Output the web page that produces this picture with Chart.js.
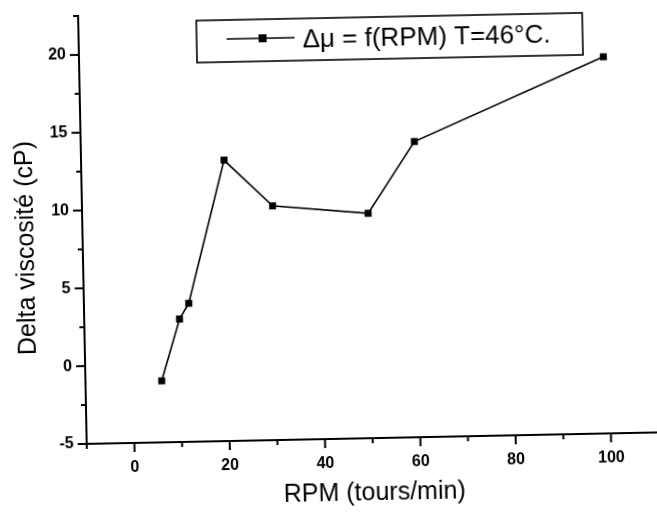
<!DOCTYPE html>
<html>
<head>
<meta charset="utf-8">
<script src="https://cdn.jsdelivr.net/npm/chart.js@4/dist/chart.umd.min.js"></script>
<style>
  html, body { margin: 0; padding: 0; background: #fff; overflow: hidden; }
  #wrap { width: 657px; height: 514px; }
  /* la figure scannee est legerement inclinee */
  #chart { transform: rotate(-1.15deg); transform-origin: 50% 50%; }
</style>
</head>
<body>
<div id="wrap"><canvas id="chart" width="657" height="514"></canvas></div>
<script>
// donnees
const rpm = [6, 10, 12, 20, 30, 50, 60, 100]
const deltaVisc = [-1.05, 2.9, 3.9, 13.05, 10.05, 9.45, 14, 19.2]
const xLabels = [0, 20, 40, 60, 80, 100]
const yLabels = [-5, 0, 5, 10, 15, 20]
const serieLabel = 'Δμ = f(RPM) T=46°C.'

const points = rpm.map((x, i) => ({ x: x, y: deltaVisc[i] }))
const fontFamily = '"Liberation Sans", Arial, sans-serif'

// traits des graduations (majeures + mineures), titres et legende
const decorPlugin = {
    id: 'originDecor',
    afterDraw(chart) {
        const ctx = chart.ctx
        const xs = chart.scales.x
        const ys = chart.scales.y
        ctx.save()
        ctx.strokeStyle = '#000'
        ctx.lineWidth = 2
        xs.ticks.forEach(t => {
            const px = xs.getPixelForValue(t.value)
            const len = xLabels.includes(t.value) ? 9 : 5
            ctx.beginPath()
            ctx.moveTo(px, xs.top)
            ctx.lineTo(px, xs.top + len)
            ctx.stroke()
        })
        ys.ticks.forEach(t => {
            const py = ys.getPixelForValue(t.value)
            const len = yLabels.includes(t.value) ? 9 : 5
            ctx.beginPath()
            ctx.moveTo(ys.right, py)
            ctx.lineTo(ys.right - len, py)
            ctx.stroke()
        })

        // titres des axes
        ctx.fillStyle = '#000'
        ctx.textAlign = 'center'
        ctx.textBaseline = 'middle'
        ctx.font = '25px ' + fontFamily
        ctx.fillText('RPM (tours/min)', 370, 494)
        ctx.save()
        ctx.translate(27, 242)
        ctx.rotate(-Math.PI / 2)
        ctx.fillText('Delta viscosité (cP)', 0, 0)
        ctx.restore()

        // legende encadree
        ctx.lineWidth = 1.6
        ctx.strokeRect(201, 18, 386, 42)
        ctx.beginPath()
        ctx.moveTo(231, 37)
        ctx.lineTo(299, 37)
        ctx.lineWidth = 1.5
        ctx.stroke()
        ctx.fillRect(263, 33, 8, 8)
        ctx.textAlign = 'left'
        ctx.font = '26px ' + fontFamily
        ctx.fillText(chart.data.datasets[0].label, 307, 40)
        ctx.restore()
    }
}

new Chart(document.getElementById('chart'), {
    type: 'scatter',
    data: {
        datasets: [{
            label: serieLabel,
            data: points,
            showLine: true,
            borderColor: '#000',
            borderWidth: 1.6,
            backgroundColor: '#000',
            pointStyle: 'rect',
            pointRadius: 4.6,
            pointBorderWidth: 0.5,
            pointBorderColor: '#000',
            pointBackgroundColor: '#000'
        }]
    },
    options: {
        responsive: false,
        animation: false,
        layout: { autoPadding: false, padding: { top: 11, right: 2, left: 0, bottom: 0 } },
        plugins: {
            legend: { display: false },
            tooltip: { enabled: false }
        },
        scales: {
            x: {
                type: 'linear',
                min: -10,
                max: 110,
                // zone de trace fixe, sans marge ajoutee pour les etiquettes
                afterFit(scale) { scale.height = 75; scale.paddingLeft = 0; scale.paddingRight = 0 },
                grid: { display: false, drawTicks: false },
                border: { display: true, color: '#000', width: 2 },
                ticks: {
                    stepSize: 10,
                    autoSkip: false,
                    maxRotation: 0,
                    padding: 15,
                    color: '#000',
                    font: { family: fontFamily, size: 16, weight: 'bold' },
                    callback: v => xLabels.includes(v) ? v : ''
                }
            },
            y: {
                type: 'linear',
                min: -5,
                max: 22.5,
                afterFit(scale) { scale.width = 83; scale.paddingTop = 0; scale.paddingBottom = 0 },
                grid: { display: false, drawTicks: false },
                border: { display: true, color: '#000', width: 2 },
                ticks: {
                    stepSize: 2.5,
                    autoSkip: false,
                    padding: 13,
                    color: '#000',
                    font: { family: fontFamily, size: 16, weight: 'bold' },
                    callback: v => yLabels.includes(v) ? v : ''
                }
            }
        }
    },
    plugins: [decorPlugin]
})
</script>
</body>
</html>
